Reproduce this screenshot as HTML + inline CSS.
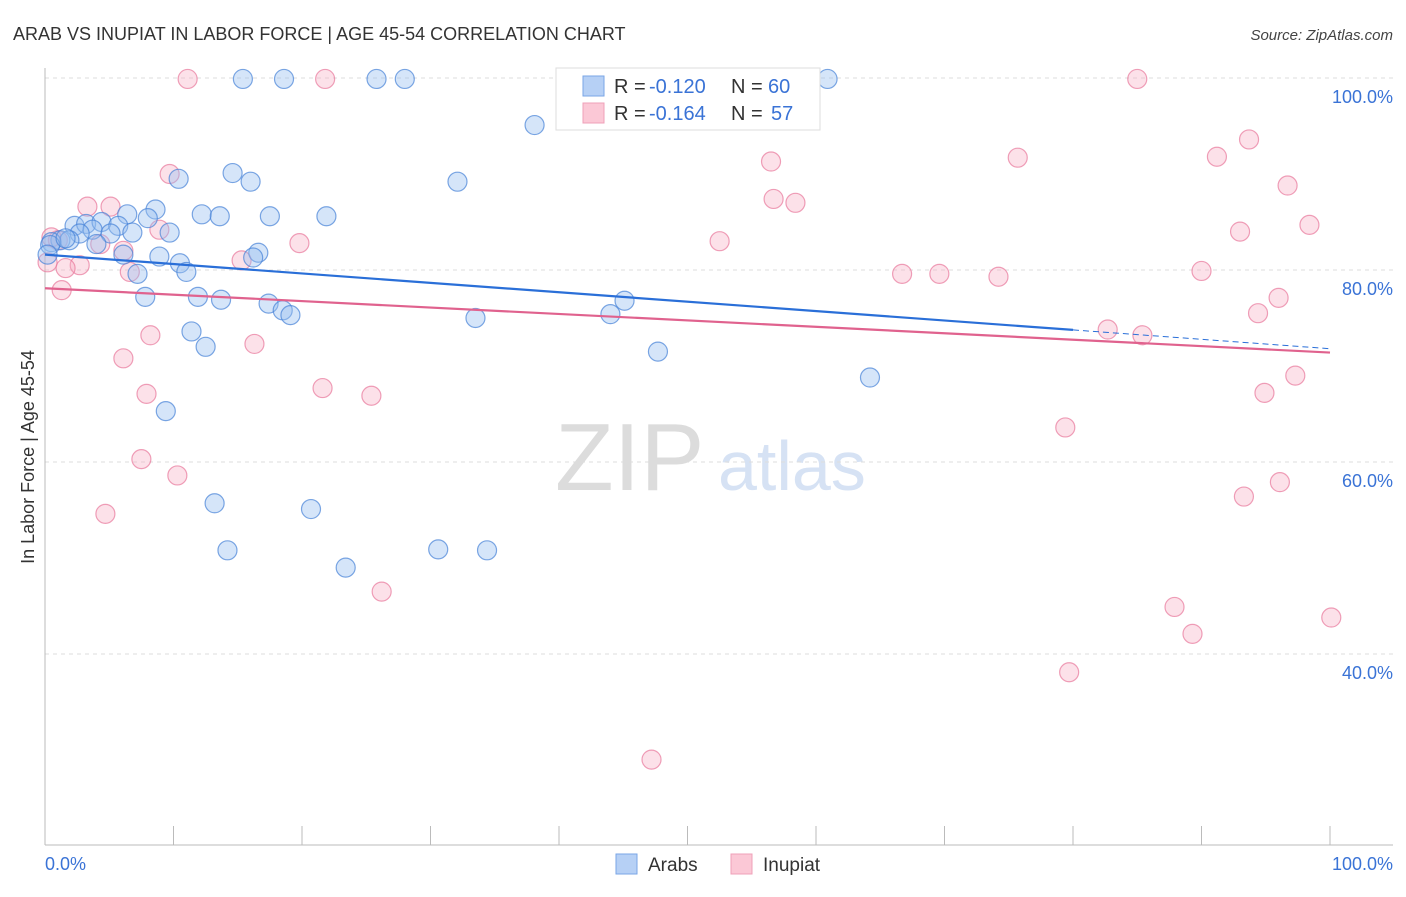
<!DOCTYPE html>
<html><head><meta charset="utf-8"><style>
body{margin:0;background:#fff;font-family:"Liberation Sans",sans-serif;}
svg text{font-family:"Liberation Sans",sans-serif;}
</style></head><body>
<svg id="chart" width="1406" height="892" xmlns="http://www.w3.org/2000/svg">
<text x="13" y="40" font-size="18" fill="#333">ARAB VS INUPIAT IN LABOR FORCE | AGE 45-54 CORRELATION CHART</text>
<text x="1393" y="40" font-size="15" fill="#444" font-style="italic" text-anchor="end">Source: ZipAtlas.com</text>
<text x="555" y="490" font-size="96" fill="#dcdcdc" font-family="Liberation Serif,serif">ZIP</text>
<text x="718" y="490" font-size="70" fill="#d6e2f4">atlas</text>
<text transform="translate(34,457) rotate(-90)" font-size="18" fill="#333" text-anchor="middle">In Labor Force | Age 45-54</text>
<g id="grid"></g><g id="pts"></g><g id="lines"></g>
<g>
<rect x="556" y="68" width="264" height="62" fill="#fff" stroke="#ddd"/>
<rect x="583" y="76" width="21" height="20" fill="#b6d0f5" stroke="#7aa6e6"/>
<rect x="583" y="103" width="21" height="20" fill="#fbc8d6" stroke="#efa0b8"/>
<text x="614" y="93" font-size="20" fill="#333">R =</text>
<text x="649" y="93" font-size="20" fill="#3a73d6">-0.120</text>
<text x="731" y="93" font-size="20" fill="#333">N =</text>
<text x="768" y="93" font-size="20" fill="#3a73d6">60</text>
<text x="614" y="120" font-size="20" fill="#333">R =</text>
<text x="649" y="120" font-size="20" fill="#3a73d6">-0.164</text>
<text x="731" y="120" font-size="20" fill="#333">N =</text>
<text x="771" y="120" font-size="20" fill="#3a73d6">57</text>
</g>
<g>
<rect x="616" y="854" width="21" height="20" fill="#b6d0f5" stroke="#7aa6e6"/>
<text x="648" y="871" font-size="19" fill="#333">Arabs</text>
<rect x="731" y="854" width="21" height="20" fill="#fbc8d6" stroke="#efa0b8"/>
<text x="763" y="871" font-size="19" fill="#333">Inupiat</text>
</g>
</svg>
<script>
const yTicks=[100,80,60,40];
const bluePx=[[243,79],[284,79],[377,79],[405,79],[828,79],[535,125],[457,182],[232,173],[250,182],[178,179],[155,210],[127,214],[148,218],[202,214],[220,216],[270,216],[327,216],[74,226],[86,224],[101,222],[118,226],[93,230],[80,234],[110,234],[132,233],[170,233],[60,240],[70,240],[52,242],[97,244],[123,255],[159,257],[180,263],[186,272],[138,274],[258,253],[253,258],[145,297],[198,297],[221,300],[268,304],[283,310],[290,315],[476,318],[611,314],[624,301],[191,331],[206,347],[658,352],[166,411],[870,378],[214,503],[311,509],[228,550],[438,549],[487,550],[346,568],[50,245],[47,255],[65,238]];
const pinkPx=[[188,79],[325,79],[1137,79],[1249,139],[1217,157],[1018,158],[771,162],[170,174],[1288,186],[774,199],[796,203],[87,207],[111,207],[1310,225],[1240,232],[160,230],[719,241],[299,243],[100,244],[123,251],[58,240],[52,237],[241,260],[80,265],[66,268],[130,272],[1202,271],[902,274],[939,274],[998,277],[62,290],[1278,298],[1258,313],[1108,330],[1142,335],[150,335],[255,344],[124,358],[1295,376],[322,388],[146,394],[371,396],[1264,393],[1065,427],[142,459],[177,475],[1244,497],[1280,482],[106,514],[382,592],[1174,607],[1193,634],[1331,618],[1069,672],[651,760],[48,262]];
const blueX=bluePx.map(p=>+((p[0]-45)/12.85).toFixed(1));
const blueY=bluePx.map(p=>+(100-(p[1]-78)/9.6).toFixed(1));
const pinkX=pinkPx.map(p=>+((p[0]-45)/12.85).toFixed(1));
const pinkY=pinkPx.map(p=>+(100-(p[1]-78)/9.6).toFixed(1));
const blueTrend=[81.6,71.8];
const pinkTrend=[78.1,71.4];
const sx=v=>45+v*12.85, sy=v=>78+(100-v)*9.6;
const NS="http://www.w3.org/2000/svg";
function mk(tag,attrs,parent){const e=document.createElementNS(NS,tag);for(const k in attrs)e.setAttribute(k,attrs[k]);parent.appendChild(e);return e;}
const grid=document.getElementById('grid');
yTicks.forEach(t=>{
 const l=mk('line',{x1:45,x2:1393,y1:sy(t),y2:sy(t),stroke:'#ddd','stroke-dasharray':'4,4'},grid);
 
 
 const tx=mk('text',{x:1393,y:sy(t)+25,'font-size':18,fill:'#3a73d6','text-anchor':'end'},grid);
 tx.textContent=t.toFixed(1)+'%';
 
 
});
const ax=mk('line',{x1:45,x2:45,y1:68,y2:845,stroke:'#bbb'},grid);


const bx=mk('line',{x1:45,x2:1393,y1:845,y2:845,stroke:'#bbb'},grid);


for(let i=1;i<=10;i++){const t=mk('line',{x1:sx(i*10),x2:sx(i*10),y1:826,y2:845,stroke:'#bbb'},grid);
 
 }
const x0=mk('text',{x:45,y:870,'font-size':18,fill:'#3a73d6'},grid);x0.textContent='0.0%';


const x1=mk('text',{x:1393,y:870,'font-size':18,fill:'#3a73d6','text-anchor':'end'},grid);x1.textContent='100.0%';


const pts=document.getElementById('pts');
pinkX.forEach((x,i)=>{const c=mk('circle',{cx:sx(x),cy:sy(pinkY[i]),r:9.5,fill:'rgba(246,170,192,0.35)',stroke:'rgba(232,120,155,0.7)','stroke-width':1.2},pts);
 
 });
blueX.forEach((x,i)=>{const c=mk('circle',{cx:sx(x),cy:sy(blueY[i]),r:9.5,fill:'rgba(150,190,240,0.4)',stroke:'rgba(70,130,215,0.7)','stroke-width':1.2},pts);
 
 });
const lines=document.getElementById('lines');
const by=x=>blueTrend[0]+(blueTrend[1]-blueTrend[0])*x/100;
const py=x=>pinkTrend[0]+(pinkTrend[1]-pinkTrend[0])*x/100;
const l1=mk('line',{x1:sx(0),y1:sy(by(0)),x2:sx(80),y2:sy(by(80)),stroke:'#2a6fd8','stroke-width':2.2},lines);


const l2=mk('line',{x1:sx(80),y1:sy(by(80)),x2:sx(100),y2:sy(by(100)),stroke:'#2a6fd8','stroke-width':1,'stroke-dasharray':'6,4'},lines);


const l3=mk('line',{x1:sx(0),y1:sy(py(0)),x2:sx(100),y2:sy(py(100)),stroke:'#e0628e','stroke-width':2.2},lines);


</script>
</body></html>
